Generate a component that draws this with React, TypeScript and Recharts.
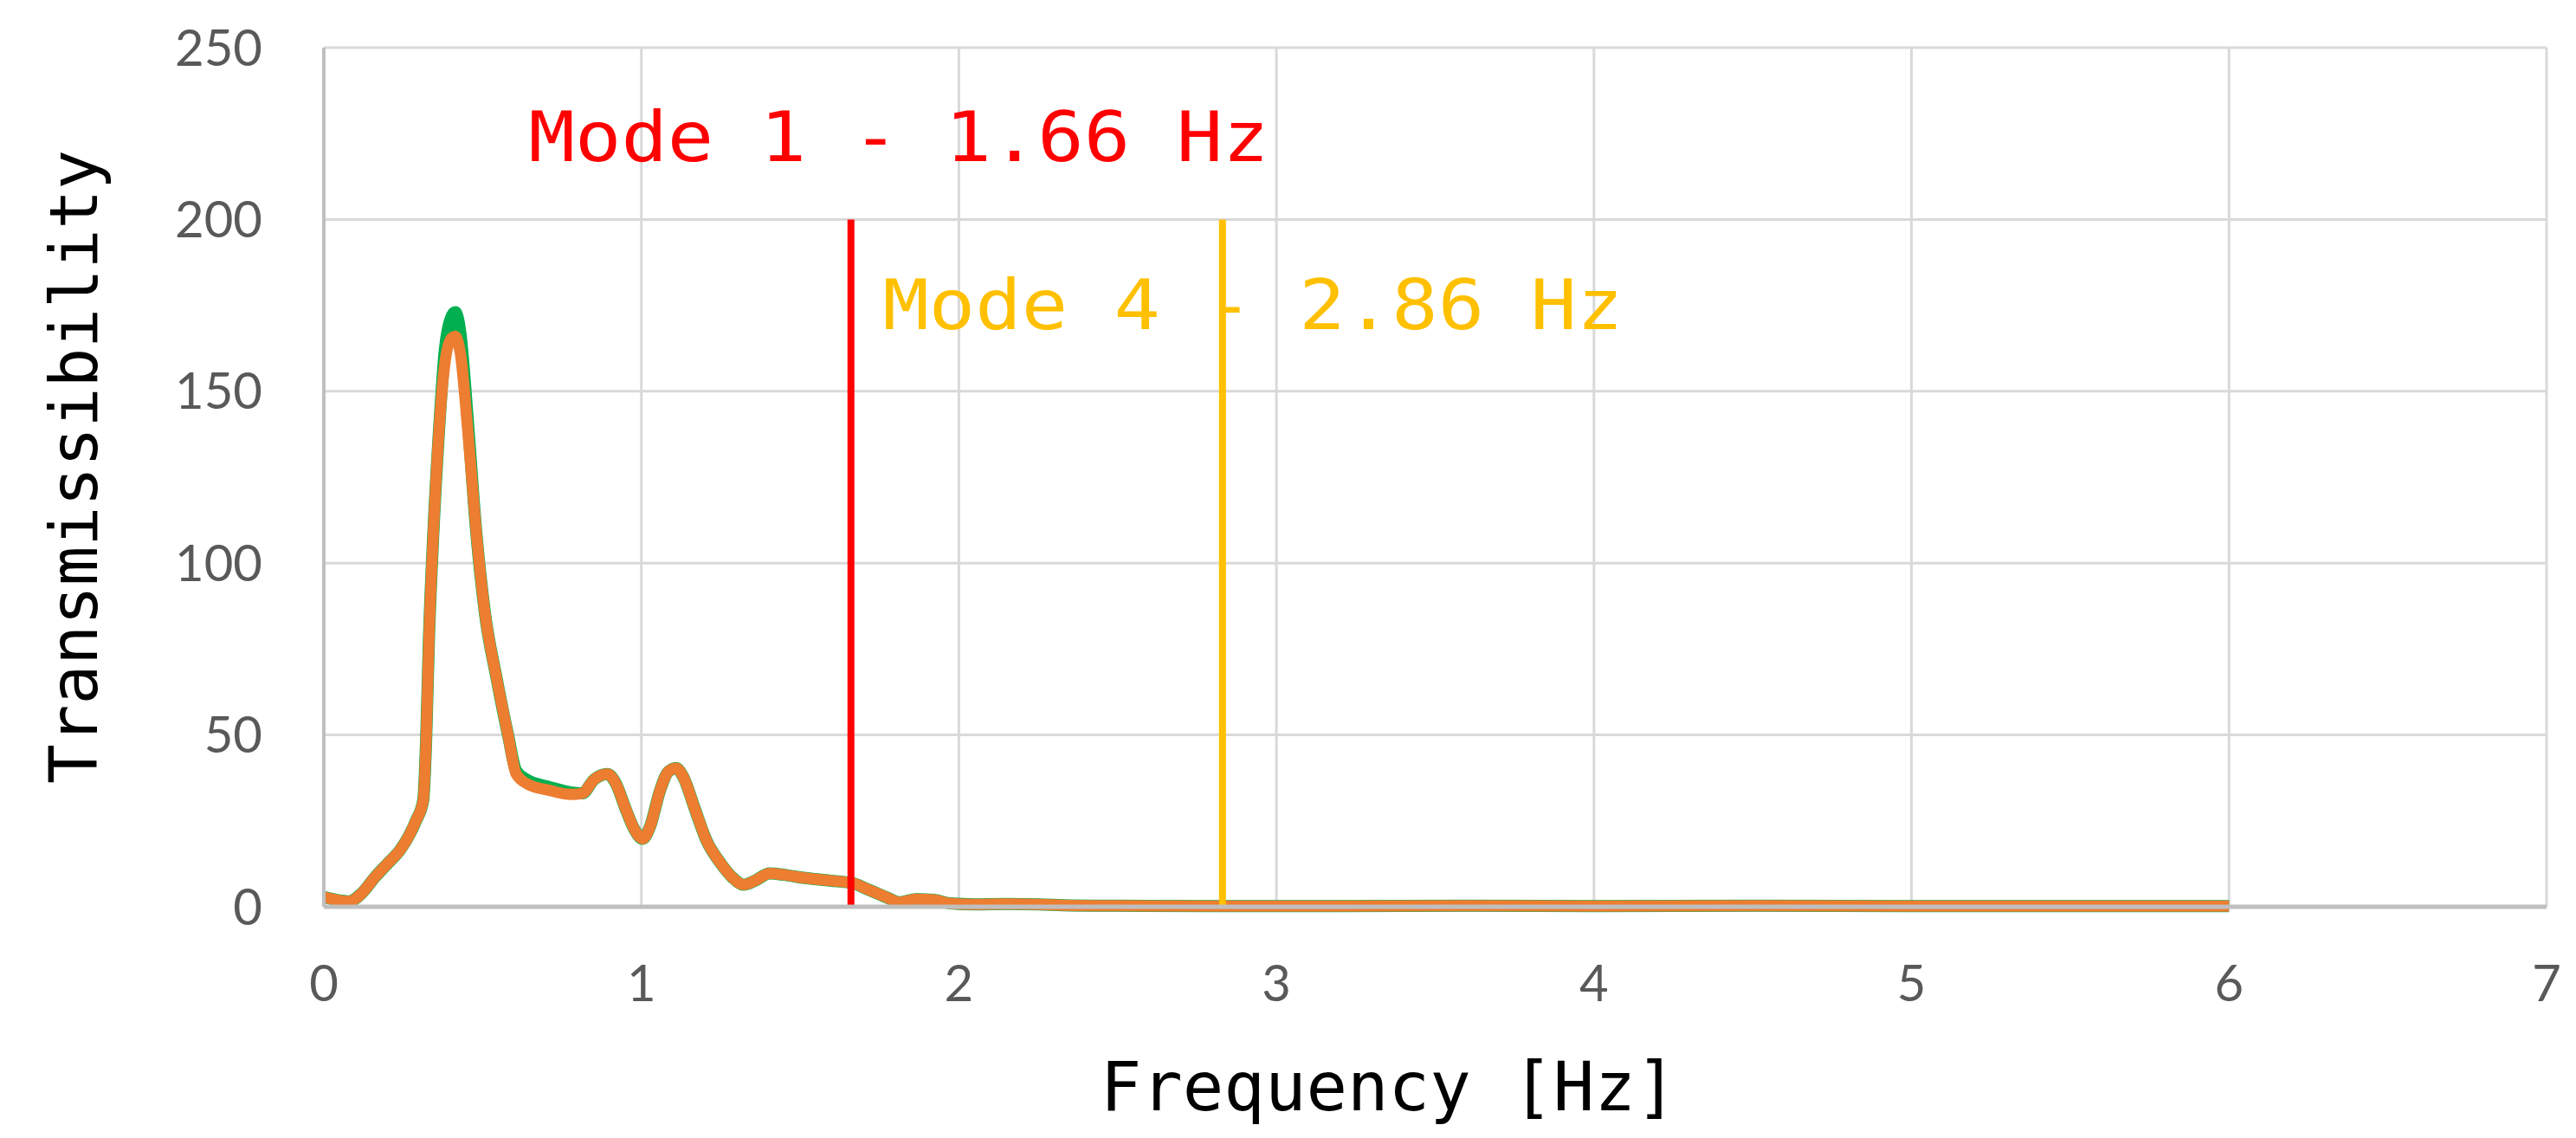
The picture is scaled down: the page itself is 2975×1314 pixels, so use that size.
import { LineChart, Line, XAxis, YAxis, CartesianGrid, ReferenceLine, ReferenceDot, Label } from 'recharts';

// frequency samples [Hz]
const FREQ = [
  0, 0.04, 0.08, 0.12, 0.16, 0.2, 0.24, 0.27, 0.29, 0.313, 0.322, 0.331, 0.345, 0.363, 0.381, 0.399,
  0.414, 0.43, 0.453, 0.48, 0.508, 0.543, 0.58, 0.606, 0.642, 0.705, 0.778, 0.814, 0.851, 0.893, 0.919,
  0.95, 0.977, 1.004, 1.028, 1.058, 1.086, 1.11, 1.132, 1.168, 1.205, 1.25, 1.287, 1.322, 1.358, 1.404,
  1.45, 1.505, 1.594, 1.668, 1.712, 1.776, 1.812, 1.866, 1.92, 1.97, 2.05, 2.15, 2.25, 2.35, 2.5, 2.8,
  3.2, 3.6, 4.0, 4.5, 5.0, 5.5, 6.0,
];

const GREEN = [
  2.8, 2, 1.6, 4, 8.5, 12.5, 16.5, 21, 25, 31, 48, 78, 109, 139, 162, 171,
  173, 167, 142, 109, 85, 67, 50, 39.5, 36.8, 35, 33.3, 33, 37, 38.6, 36,
  28.6, 22.7, 19.8, 23.5, 33.6, 39.4, 40.3, 37.8, 28.6, 19.3, 12.6, 8.5, 6.4, 7.6, 9.7,
  9.3, 8.5, 7.6, 6.8, 5.1, 2.6, 1.3, 2.2, 2.0, 1.0, 0.7, 0.8, 0.7, 0.4, 0.3, 0.2,
  0.2, 0.3, 0.2, 0.3, 0.2, 0.2, 0.2,
];

const ORANGE = [
  2.8, 2, 1.6, 4, 8.5, 12.5, 16.5, 21, 25, 31, 48, 78, 109, 139, 158, 165,
  166, 161, 139, 109, 85, 67, 50, 38.6, 35.7, 34, 32.7, 33, 37, 38.6, 36,
  28.6, 22.7, 19.8, 23.5, 33.6, 39.4, 40.3, 37.8, 28.6, 19.3, 12.6, 8.5, 6.4, 7.6, 9.7,
  9.3, 8.5, 7.6, 6.8, 5.1, 2.6, 1.3, 2.2, 2.0, 1.0, 0.7, 0.8, 0.7, 0.4, 0.3, 0.2,
  0.2, 0.3, 0.2, 0.3, 0.2, 0.2, 0.2,
];

const X_TICKS = [0, 1, 2, 3, 4, 5, 6, 7];
const Y_TICKS = [0, 50, 100, 150, 200, 250];

const MODE_NAMES = ['Mode 1 - 1.66 Hz', 'Mode 4 - 2.86 Hz'];
const MODE_X = [1.66, 2.83];
const MODE_TOP = [200, 200];
const MODE_COLORS = ['#ff0000', '#ffc000'];
// where each mode caption starts (data coords)
const CAPTION_X = [0.645, 1.76];
const CAPTION_Y = [217, 168];

const rows = FREQ.map((f, i) => ({ f, green: GREEN[i], orange: ORANGE[i] }));

const MONO = '"DejaVu Sans Mono", monospace';
const TICK = { fontSize: 58, fill: '#595959', fontFamily: 'Lato, sans-serif' };

export default function App() {
  return (
    <div style={{ position: 'absolute', left: 0, top: 0, background: '#fff' }}>
      <LineChart width={2975} height={1314} data={rows} margin={{ top: 55, right: 34, bottom: 0, left: 0 }}>
        <CartesianGrid stroke="#d9d9d9" strokeWidth={3} />
        <XAxis
          dataKey="f"
          type="number"
          domain={[0, 7]}
          ticks={X_TICKS}
          height={267}
          tickLine={false}
          tickMargin={62}
          axisLine={{ stroke: '#bfbfbf', strokeWidth: 5 }}
          tick={TICK}
        >
          <Label
            content={({ viewBox }: any) => (
              <text
                x={viewBox.x + viewBox.width * 0.479}
                y={viewBox.y + 235}
                textAnchor="middle"
                fontFamily={MONO}
                fontSize={79}
                fill="#000"
              >
                Frequency [Hz]
              </text>
            )}
          />
        </XAxis>
        <YAxis
          type="number"
          domain={[0, 250]}
          ticks={Y_TICKS}
          width={374}
          tickLine={false}
          tickMargin={65}
          axisLine={{ stroke: '#bfbfbf', strokeWidth: 4 }}
          tick={TICK}
        >
          <Label
            content={({ viewBox }: any) => {
              const cx = viewBox.x + 112;
              const cy = viewBox.y + viewBox.height / 2 - 12;
              return (
                <text
                  x={cx}
                  y={cy}
                  transform={`rotate(-90, ${cx}, ${cy})`}
                  textAnchor="middle"
                  fontFamily={MONO}
                  fontSize={76}
                  fill="#000"
                >
                  Transmissibility
                </text>
              );
            }}
          />
        </YAxis>

        <Line
          type="monotone"
          dataKey="green"
          stroke="#00b050"
          strokeWidth={14}
          dot={false}
          isAnimationActive={false}
        />
        <Line
          type="monotone"
          dataKey="orange"
          stroke="#ed7d31"
          strokeWidth={13}
          dot={false}
          isAnimationActive={false}
        />

        {MODE_X.map((x, i) => (
          <ReferenceLine
            key={`ml${i}`}
            segment={[{ x, y: 0 }, { x, y: MODE_TOP[i] }]}
            stroke={MODE_COLORS[i]}
            strokeWidth={8}
          />
        ))}
        {MODE_NAMES.map((name, i) => (
          <ReferenceDot
            key={`mc${i}`}
            x={CAPTION_X[i]}
            y={CAPTION_Y[i]}
            r={0}
            fill="none"
            stroke="none"
            label={{
              content: ({ viewBox }: any) => (
                <text
                  x={viewBox.x}
                  y={viewBox.y}
                  fontFamily={MONO}
                  fontSize={81}
                  fill={MODE_COLORS[i]}
                  textLength={855}
                  lengthAdjust="spacingAndGlyphs"
                >
                  {name}
                </text>
              ),
            }}
          />
        ))}
      </LineChart>
    </div>
  );
}
